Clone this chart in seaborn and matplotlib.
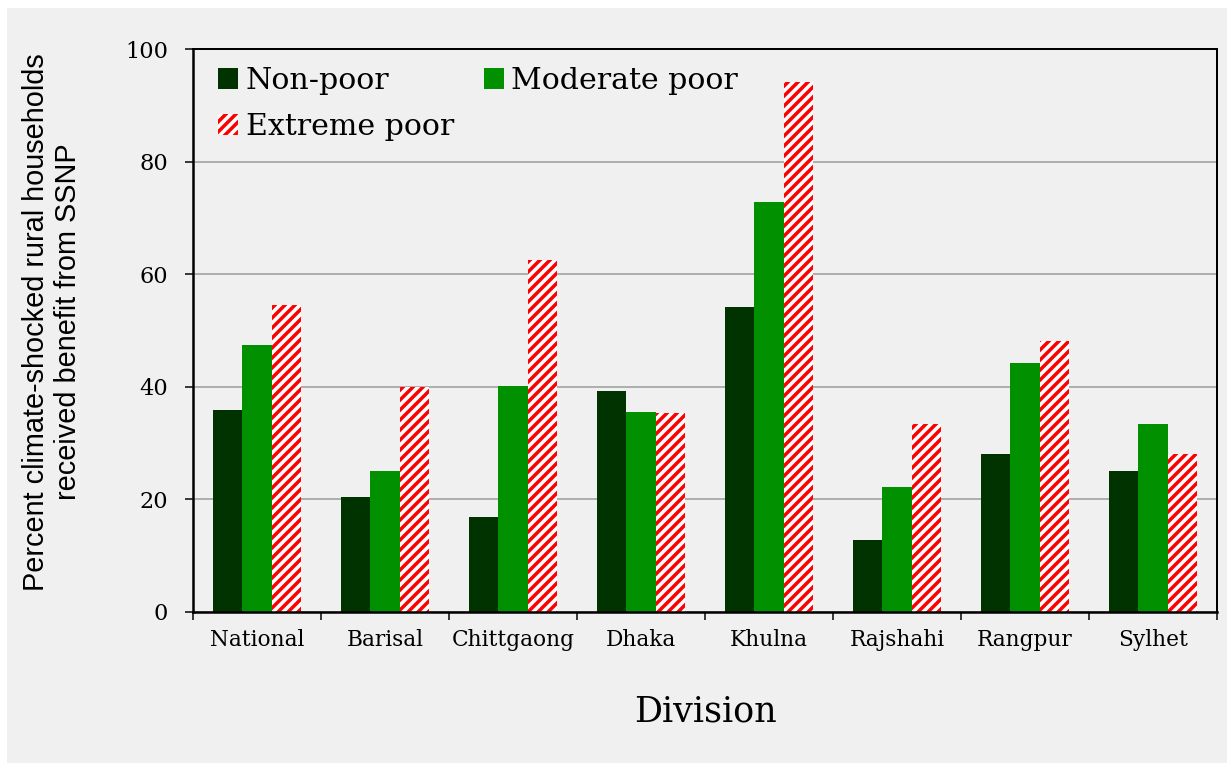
import numpy as np
import pandas as pd
import matplotlib
matplotlib.use("Agg")
import matplotlib.pyplot as plt
import seaborn as sns
from matplotlib.patches import Patch, Rectangle

# data
divisions = ["National", "Barisal", "Chittgaong", "Dhaka", "Khulna", "Rajshahi", "Rangpur", "Sylhet"]
groups = ["Non-poor", "Moderate poor", "Extreme poor"]
non_poor = [35.9, 20.4, 16.8, 39.3, 54.2, 12.7, 28.0, 25.0]
moderate_poor = [47.4, 25.0, 40.1, 35.5, 72.9, 22.2, 44.3, 33.4]
extreme_poor = [54.5, 40.0, 62.6, 35.3, 94.2, 33.4, 48.1, 28.0]
y_ticks = [0, 20, 40, 60, 80, 100]

colors = ["#003300", "#009000", "white"]
bg = "#f0f0f0"

df = pd.DataFrame({"Division": divisions, "Non-poor": non_poor,
                   "Moderate poor": moderate_poor, "Extreme poor": extreme_poor})
df = df.melt(id_vars="Division", var_name="Group", value_name="Percent")

plt.rcParams["hatch.linewidth"] = 2.1
serif = ["DejaVu Serif"]

fig = plt.figure(figsize=(1227 / 120, 763 / 120), dpi=120, facecolor="white")
fig.patches.append(Rectangle((7 / 1227, 0), 1, 1 - 8 / 763, transform=fig.transFigure,
                             facecolor=bg, edgecolor="none", zorder=-10))
ax = fig.add_axes([193 / 1227, 1 - 612 / 763, 1024 / 1227, 563 / 763])
ax.set_facecolor(bg)

sns.barplot(data=df, x="Division", y="Percent", hue="Group", order=divisions,
            hue_order=groups, palette=colors, width=0.68, saturation=1,
            errorbar=None, legend=False, linewidth=0, ax=ax)

# extreme poor -> red diagonal stripes on white
for bar in ax.containers[2]:
    bar.set_facecolor("white")
    bar.set_edgecolor("red")
    bar.set_hatch("////")
    bar.set_linewidth(0)

ax.set_ylim(0, 100)
ax.set_xlim(-0.5, len(divisions) - 0.5)
ax.set_yticks(y_ticks)
ax.yaxis.grid(True, color="#9a9a9a", linewidth=0.9)
ax.set_axisbelow(True)

ax.tick_params(axis="y", direction="out", length=4.8, width=0.9, pad=10, labelsize=13.5)
for t in ax.get_yticklabels():
    t.set_family(serif)
ax.tick_params(axis="x", which="major", length=0, pad=10, labelsize=13)
for t in ax.get_xticklabels():
    t.set_family(serif)
ax.set_xticks(np.arange(-0.5, len(divisions), 1), minor=True)
ax.tick_params(axis="x", which="minor", direction="out", length=4.8, width=0.9)

for side in ["left", "bottom"]:
    ax.spines[side].set_linewidth(1.5)
for side in ["top", "right"]:
    ax.spines[side].set_linewidth(1.2)
for s in ax.spines.values():
    s.set_color("black")

ax.set_xlabel("Division", fontsize=21, family=serif, va="center")
ax.xaxis.set_label_coords(0.5, (612 - 711) / 563)
ax.set_ylabel("Percent climate-shocked rural households\nreceived benefit from SSNP",
              fontsize=17.3, family=["Liberation Sans", "DejaVu Sans"],
              linespacing=1.2, va="center")
ax.yaxis.set_label_coords((52 - 193) / 1024, (612 - 322) / 563)

handles = [Patch(facecolor=colors[0], edgecolor="none"),
           Patch(facecolor="white", edgecolor="red", hatch="////", linewidth=0),
           Patch(facecolor=colors[1], edgecolor="none")]
labels = [groups[0], groups[2], groups[1]]
leg = ax.legend(handles, labels, ncol=2, loc="upper left", bbox_to_anchor=(0.0244, 0.968),
                frameon=False, borderpad=0, borderaxespad=0, handlelength=0.67,
                handleheight=0.67, handletextpad=0.25, columnspacing=1.0,
                labelspacing=0.6, prop={"family": serif, "size": 18})

plt.savefig("out.png", dpi=120, facecolor=fig.get_facecolor())
